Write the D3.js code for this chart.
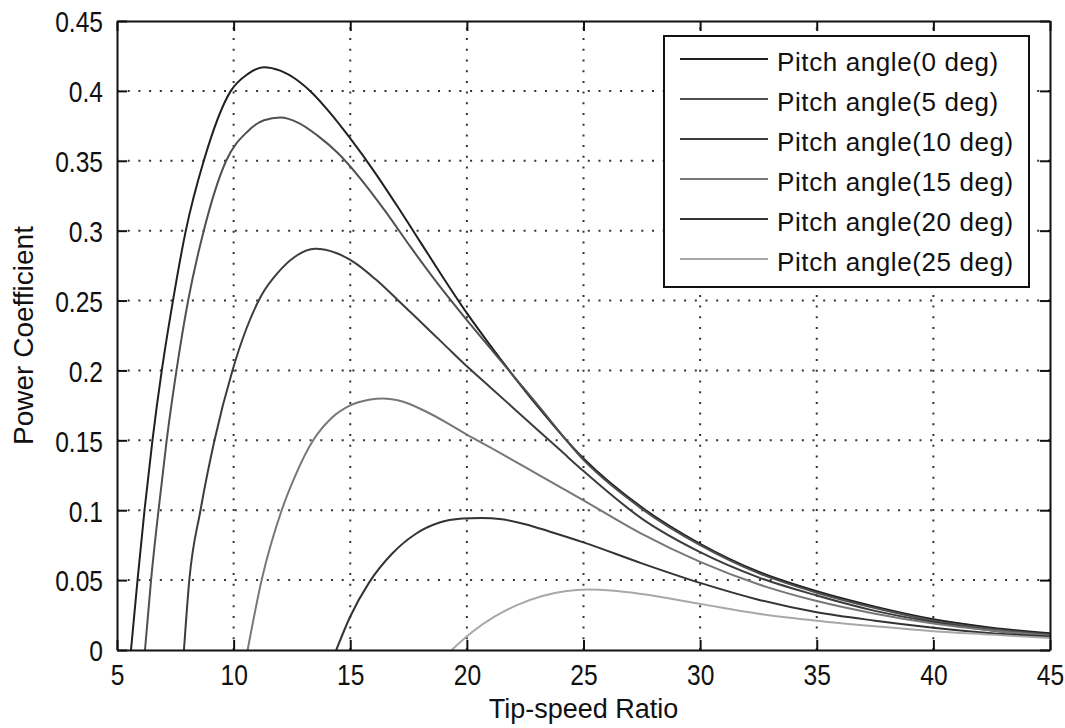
<!DOCTYPE html>
<html>
<head>
<meta charset="utf-8">
<script src="https://cdn.jsdelivr.net/npm/d3@7"></script>
<style>
  html, body { margin: 0; padding: 0; background: #fff; }
  svg { display: block; }
  text { font-family: "Liberation Sans", Arial, sans-serif; fill: #111; }
</style>
</head>
<body>
<svg id="chart" width="1065" height="728"></svg>
<script>
// ---------- data ----------
const xTicks = [5, 10, 15, 20, 25, 30, 35, 40, 45];
const xTickLabels = ["5", "10", "15", "20", "25", "30", "35", "40", "45"];
const yTicks = [0, 0.05, 0.1, 0.15, 0.2, 0.25, 0.3, 0.35, 0.4, 0.45];
const yTickLabels = ["0", "0.05", "0.1", "0.15", "0.2", "0.25", "0.3", "0.35", "0.4", "0.45"];

const seriesNames = ["Pitch angle(0 deg)", "Pitch angle(5 deg)", "Pitch angle(10 deg)",
                     "Pitch angle(15 deg)", "Pitch angle(20 deg)", "Pitch angle(25 deg)"];

const tsr0 = [5.6, 5.88, 6.18, 6.52, 6.92, 7.4, 7.95, 8.72, 9.88, 10.6, 11.3, 12.0, 12.7, 13.4, 14.1, 15.0, 16.0, 17.0, 18.0, 19.0, 20.0, 21.0, 22.0, 23.0, 25, 27.5, 30, 32.5, 35, 37.5, 40, 42.5, 45];
const cp0  = [0, 0.05, 0.1, 0.15, 0.2, 0.25, 0.3, 0.35, 0.4, 0.412, 0.417, 0.4145, 0.408, 0.398, 0.385, 0.366, 0.343, 0.318, 0.292, 0.266, 0.241, 0.218, 0.196, 0.175, 0.137, 0.102, 0.076, 0.056, 0.042, 0.031, 0.022, 0.016, 0.012];

const tsr5 = [6.2, 6.46, 6.78, 7.13, 7.55, 8.05, 8.72, 9.68, 10.6, 11.3, 12.0, 12.8, 13.6, 14.5, 15.4, 16.5, 17.6, 18.8, 20, 21, 22, 23, 25, 27.5, 30, 32.5, 35, 37.5, 40, 42.5, 45];
const cp5  = [0, 0.05, 0.1, 0.15, 0.2, 0.25, 0.3, 0.35, 0.371, 0.379, 0.381, 0.377, 0.368, 0.355, 0.338, 0.314, 0.288, 0.261, 0.236, 0.216, 0.196, 0.176, 0.136, 0.101, 0.075, 0.055, 0.041, 0.030, 0.021, 0.015, 0.011];

const tsr10 = [7.87, 8.1, 8.58, 9.18, 9.95, 10.55, 11.2, 11.9, 12.6, 13.5, 14.4, 15.2, 16.1, 17.0, 18.0, 19.0, 20.0, 21.0, 22.0, 23.0, 24.0, 25, 27.5, 30, 32.5, 35, 37.5, 40, 42.5, 45];
const cp10  = [0, 0.05, 0.1, 0.15, 0.2, 0.23, 0.254, 0.27, 0.281, 0.287, 0.284, 0.277, 0.265, 0.251, 0.235, 0.219, 0.203, 0.188, 0.173, 0.158, 0.143, 0.128, 0.094, 0.070, 0.052, 0.039, 0.028, 0.020, 0.014, 0.010];

const tsr15 = [10.6, 11.2, 12.06, 12.65, 13.41, 14.2, 15.0, 15.8, 16.4, 17.2, 18.2, 19.2, 20, 21, 22, 23, 24, 25, 27.5, 30, 32.5, 35, 37.5, 40, 42.5, 45];
const cp15  = [0, 0.05, 0.1, 0.125, 0.15, 0.166, 0.175, 0.179, 0.18, 0.178, 0.171, 0.162, 0.154, 0.145, 0.1355, 0.126, 0.1165, 0.107, 0.083, 0.063, 0.047, 0.035, 0.026, 0.019, 0.014, 0.010];

const tsr20 = [14.4, 15.0, 15.8, 16.8, 17.8, 18.8, 19.8, 20.6, 21.5, 22.5, 23.5, 25, 27.5, 30, 32.5, 35, 37.5, 40, 42.5, 45];
const cp20  = [0, 0.024, 0.048, 0.069, 0.083, 0.091, 0.094, 0.0945, 0.0935, 0.090, 0.085, 0.077, 0.062, 0.048, 0.036, 0.027, 0.021, 0.016, 0.012, 0.0095];

const tsr25 = [19.35, 20.2, 21.2, 22.2, 23.2, 24.2, 25.2, 26.2, 27.5, 30, 32.5, 35, 37.5, 40, 42.5, 45];
const cp25  = [0, 0.0125, 0.024, 0.0325, 0.0385, 0.042, 0.0432, 0.0425, 0.040, 0.033, 0.026, 0.021, 0.017, 0.0135, 0.011, 0.0085];

const seriesX = [tsr0, tsr5, tsr10, tsr15, tsr20, tsr25];
const seriesY = [cp0, cp5, cp10, cp15, cp20, cp25];
const seriesColors = ["#202020", "#505050", "#3c3c3c", "#777777", "#333333", "#a8a8a8"];

const xLabel = "Tip-speed Ratio";
const yLabel = "Power Coefficient";

// ---------- layout ----------
const L = 117, R = 1050, T = 21, B = 650;
const svg = d3.select("#chart");

const x = d3.scaleLinear().domain([5, 45]).range([L, R]);
const y = d3.scaleLinear().domain([0, 0.45]).range([B, T]);

// grid (dotted)
const grid = svg.append("g").attr("stroke", "#333").attr("stroke-width", 2)
  .attr("stroke-dasharray", "2,8.7");
grid.selectAll("line.gx").data(xTicks.slice(1, -1)).join("line")
  .attr("x1", d => x(d)).attr("x2", d => x(d)).attr("y1", B).attr("y2", T);
grid.selectAll("line.gy").data(yTicks.slice(1, -1)).join("line")
  .attr("y1", d => y(d)).attr("y2", d => y(d)).attr("x1", L).attr("x2", R);

// curves
svg.append("clipPath").attr("id", "plotclip").append("rect")
  .attr("x", L).attr("y", T).attr("width", R - L).attr("height", B - T);

const line = d3.line().x(d => x(d[0])).y(d => y(d[1])).curve(d3.curveMonotoneX);
const curves = svg.append("g").attr("clip-path", "url(#plotclip)");
seriesX.forEach((xs, i) => {
  const pts = xs.map((v, j) => [v, seriesY[i][j]]);
  curves.append("path").datum(pts)
    .attr("fill", "none").attr("stroke", seriesColors[i]).attr("stroke-width", 2)
    .attr("stroke-linejoin", "round")
    .attr("d", line);
});

// axes (MATLAB style: inward ticks, full box)
const tickFont = "30px";
const sx = 0.82;

const axB = svg.append("g").attr("transform", `translate(0,${B})`)
  .call(d3.axisBottom(x).tickValues(xTicks).tickFormat((d, i) => xTickLabels[i])
        .tickSizeInner(-10).tickSizeOuter(0));
axB.selectAll("text").attr("font-size", tickFont).attr("y", 0).attr("dy", 0)
  .attr("transform", `translate(0,35) scale(${sx},1)`).attr("x", 0);

const axL = svg.append("g").attr("transform", `translate(${L},0)`)
  .call(d3.axisLeft(y).tickValues(yTicks).tickFormat((d, i) => yTickLabels[i])
        .tickSizeInner(-10).tickSizeOuter(0));
axL.selectAll("text").attr("font-size", tickFont).attr("dy", "0.36em")
  .attr("x", 0).attr("transform", `translate(-14,0) scale(${sx},1)`);

const axT = svg.append("g").attr("transform", `translate(0,${T})`)
  .call(d3.axisTop(x).tickValues(xTicks).tickFormat("").tickSizeInner(-10).tickSizeOuter(0));
const axR = svg.append("g").attr("transform", `translate(${R},0)`)
  .call(d3.axisRight(y).tickValues(yTicks).tickFormat("").tickSizeInner(-10).tickSizeOuter(0));

[axB, axL, axT, axR].forEach(g => {
  g.attr("font-family", null);
  g.select(".domain").attr("stroke", "#111").attr("stroke-width", 2);
  g.selectAll(".tick line").attr("stroke", "#111").attr("stroke-width", 2);
  g.selectAll("text").attr("fill", "#111").style("font-family", '"Liberation Sans", Arial, sans-serif');
});

// axis labels
svg.append("text").attr("x", (L + R) / 2).attr("y", 718).attr("text-anchor", "middle")
  .attr("font-size", "27px").text(xLabel);
svg.append("text").attr("transform", `translate(33,${(T + B) / 2}) rotate(-90)`)
  .attr("text-anchor", "middle").attr("font-size", "28px").text(yLabel);

// legend
const lg = svg.append("g");
lg.append("rect").attr("x", 664).attr("y", 36).attr("width", 365).attr("height", 251)
  .attr("fill", "#fff").attr("stroke", "#111").attr("stroke-width", 2);
seriesNames.forEach((name, i) => {
  const yy = 59 + 40 * i;
  lg.append("line").attr("x1", 680).attr("x2", 768).attr("y1", yy).attr("y2", yy)
    .attr("stroke", seriesColors[i]).attr("stroke-width", 2);
  lg.append("text").attr("x", 777).attr("y", yy + 12).attr("font-size", "26px")
    .attr("letter-spacing", "0.6px").text(name);
});
</script>
</body>
</html>
